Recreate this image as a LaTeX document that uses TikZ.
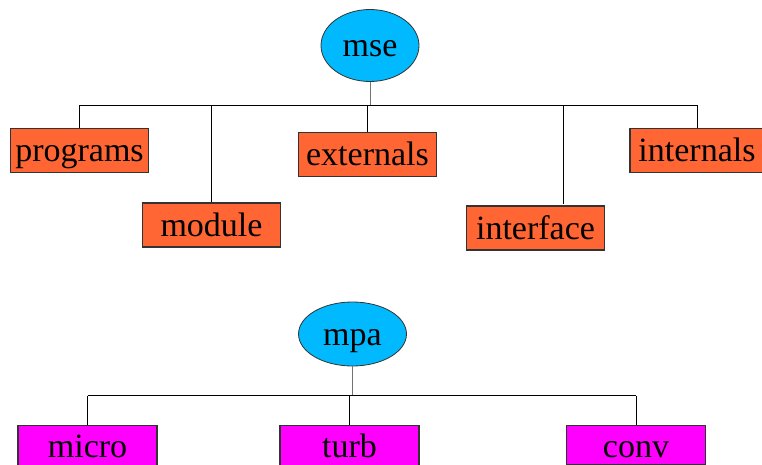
\documentclass[tikz,border=0pt]{standalone}
\usepackage{fontspec}
\setmainfont{Liberation Serif}
\usetikzlibrary{shapes.geometric}
\definecolor{skyb}{RGB}{0,185,255}
\definecolor{orng}{RGB}{255,102,51}
\definecolor{mgnt}{RGB}{255,0,255}
\begin{document}
\begin{tikzpicture}[x=1pt,y=-1pt,
  lbl/.style={font=\fontsize{34}{40}\selectfont, text height=22pt, text depth=0pt},
  obox/.style={lbl, draw=black!80, line width=1.1pt, fill=orng, minimum width=138pt, minimum height=44pt, inner sep=0pt},
  mbox/.style={lbl, draw=black!80, line width=1.1pt, fill=mgnt, minimum width=139pt, inner sep=0pt},
  oval/.style={lbl, ellipse, draw=black!80, line width=0.8pt, fill=skyb, inner sep=0pt},
  conn/.style={draw=black, line width=0.8pt}]
\useasboundingbox (0,0) rectangle (762,465);
% top tree
\node[oval, minimum width=98pt, minimum height=72pt] (mse) at (370,45.5) {mse};
\node[obox] (programs) at (79.5,150.5) {programs};
\node[obox] (module) at (211.5,225) {module};
\node[obox] (externals) at (367.5,154.5) {externals};
\node[obox] (interface) at (535.5,228) {interface};
\node[obox, minimum width=134pt] (internals) at (697,150.5) {internals};
\coordinate (bus) at (369.5,105.5);
\coordinate (ifc) at (563.5,204);
\draw[conn, draw=black!55] (mse.south) -- (mse.south |- bus);
\draw[conn] (programs.north |- bus) -- (internals.north |- bus);
\draw[conn] (programs.north |- bus) -- (programs.north);
\draw[conn] (module.north |- bus) -- (module.north);
\draw[conn] (externals.north |- bus) -- (externals.north);
\draw[conn] (ifc |- bus) -- (ifc);
\draw[conn] (internals.north |- bus) -- (internals.north);
% bottom tree
\node[oval, minimum width=108pt, minimum height=64pt] (mpa) at (352.5,334) {mpa};
\node[mbox, minimum height=44pt, anchor=north] (micro) at (87.5,424.5) {};
\node[lbl] at (87.5,446) {micro};
\node[mbox, minimum height=44pt, anchor=north] (turb) at (349.5,424.5) {};
\node[lbl] at (349.5,446) {turb};
\node[mbox, minimum height=38.5pt, anchor=north] (conv) at (636,425) {};
\node[lbl] at (636,446) {conv};
\coordinate (bus2) at (352.5,395.5);
\draw[conn, draw=black!55] (mpa.south) -- (mpa.south |- bus2);
\draw[conn] (micro.north |- bus2) -- (conv.north |- bus2);
\draw[conn] (micro.north |- bus2) -- (micro.north);
\draw[conn] (turb.north |- bus2) -- (turb.north);
\draw[conn] (conv.north |- bus2) -- (conv.north);
\end{tikzpicture}
\end{document}
